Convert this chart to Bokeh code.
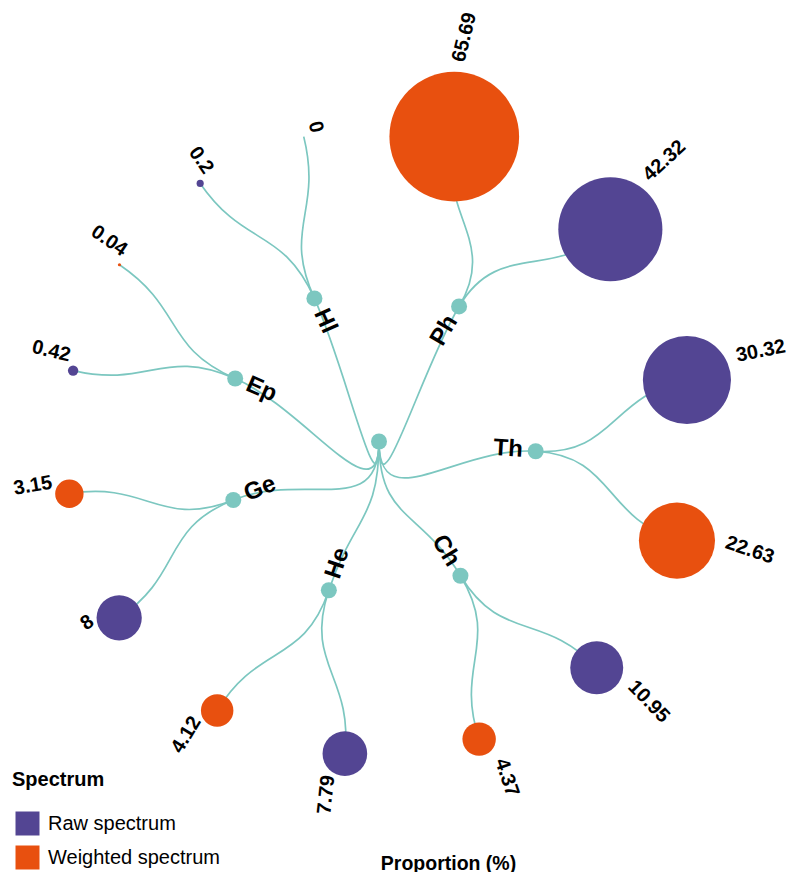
import numpy as np
from bokeh.plotting import figure
from bokeh.models import Range1d, Legend, LegendItem, Label, ColumnDataSource
from bokeh.core.properties import value
from bokeh.embed import file_html
from bokeh.resources import INLINE

# ---------------- data ----------------
groups = ["Ph", "Ph", "Th", "Th", "Ch", "Ch", "He", "He",
          "Ge", "Ge", "Ep", "Ep", "Hl", "Hl"]
proportions = [65.69, 42.32, 30.32, 22.63, 10.95, 4.37, 7.79, 4.12,
               8, 3.15, 0.42, 0.04, 0.2, 0]
spectra = ["Weighted spectrum", "Raw spectrum", "Raw spectrum", "Weighted spectrum",
           "Raw spectrum", "Weighted spectrum", "Raw spectrum", "Weighted spectrum",
           "Raw spectrum", "Weighted spectrum", "Raw spectrum", "Weighted spectrum",
           "Raw spectrum", "Weighted spectrum"]
spectrum_levels = ["Raw spectrum", "Weighted spectrum"]
spectrum_colors = ["#534593", "#E8500F"]

# ---------------- layout constants ----------------
W, H = 792, 872
CX, CY = 378.5, 441.0          # centre of the tree, from the figure's top-left
R_LEAF, R_NODE = 314.0, 157.0
SIZE_K = 8.0                   # radius = SIZE_K * sqrt(value)
PAD, SIZE_W = 10.25, 0.1128    # angular half-width per leaf (deg)
TEAL = "#7CC7C0"
FONT = "Liberation Sans"

n = len(proportions)
vals = np.array(proportions, dtype=float)
rad = SIZE_K * np.sqrt(vals)

# angular positions: spacing grows with the size of neighbouring circles
half = PAD + SIZE_W * rad
gaps = half + np.roll(half, -1)             # gap between leaf i and i+1
scale = 360.0 / gaps.sum()
theta = np.zeros(n)
theta[0] = gaps[-1] * scale / 2.0
for i in range(1, n):
    theta[i] = theta[i - 1] + gaps[i - 1] * scale


def polar(r, deg):
    a = np.radians(deg)
    return r * np.sin(a), r * np.cos(a)


group_names = list(dict.fromkeys(groups))
g_theta = np.array([theta[[k for k in range(n) if groups[k] == g]].mean() for g in group_names])
ROOT_ANGLE = 180.0

p = figure(width=W, height=H, output_backend="svg", toolbar_location=None,
           x_range=Range1d(-CX, W - CX), y_range=Range1d(CY - H, CY),
           min_border=0, outline_line_color=None)
p.axis.visible = False
p.grid.visible = False
p.background_fill_color = "white"

# ---------------- edges (diagonal bezier links) ----------------
ex0, ey0, ex1, ey1, cx0, cy0, cx1, cy1 = ([] for _ in range(8))
rm = R_NODE / 2
for gt in g_theta:
    x1, y1 = polar(R_NODE, gt)
    a0, b0 = polar(rm, ROOT_ANGLE)
    a1, b1 = polar(rm, gt)
    ex0.append(0.0); ey0.append(0.0); ex1.append(x1); ey1.append(y1)
    cx0.append(a0); cy0.append(b0); cx1.append(a1); cy1.append(b1)
rm2 = (R_NODE + R_LEAF) / 2
for i in range(n):
    gt = g_theta[group_names.index(groups[i])]
    x0, y0 = polar(R_NODE, gt)
    x1, y1 = polar(R_LEAF, theta[i])
    a0, b0 = polar(rm2, gt)
    a1, b1 = polar(rm2, theta[i])
    ex0.append(x0); ey0.append(y0); ex1.append(x1); ey1.append(y1)
    cx0.append(a0); cy0.append(b0); cx1.append(a1); cy1.append(b1)
p.bezier(x0=ex0, y0=ey0, x1=ex1, y1=ey1, cx0=cx0, cy0=cy0, cx1=cx1, cy1=cy1,
         line_color=TEAL, line_width=1.7)

# ---------------- inner nodes ----------------
gx, gy = polar(R_NODE, g_theta)
p.circle(x=np.concatenate([[0.0], gx]), y=np.concatenate([[0.0], gy]),
         radius=8, fill_color=TEAL, line_color=None)

# ---------------- leaves ----------------
lx, ly = polar(R_LEAF, theta)
leaf_colors = [spectrum_colors[spectrum_levels.index(s)] for s in spectra]
p.circle(x=lx, y=ly, radius=rad, fill_color=leaf_colors, line_color=None)

# ---------------- value labels ----------------
vx, vy, va, val_align = [], [], [], []
for i in range(n):
    t = theta[i] % 360
    right = t < 180
    alpha = (90 - t) if right else (270 - t)
    r_anchor = R_LEAF + rad[i] + (9 if right else 1)
    x, y = polar(r_anchor, t)
    ar = np.radians(alpha)
    x += -15 * np.sin(ar)
    y += 15 * np.cos(ar)
    vx.append(x); vy.append(y); va.append(ar)
    val_align.append("left" if right else "right")
val_src = ColumnDataSource(dict(x=vx, y=vy, angle=va, align=val_align,
                                text=[f"{v:g}" for v in proportions]))
p.text(x="x", y="y", text="text", angle="angle", text_align="align", source=val_src,
       text_baseline="middle", text_font=value(FONT), text_font_style="bold",
       text_font_size="20px", text_color="black")

# ---------------- group labels ----------------
gx2, gy2, ga, g_align = [], [], [], []
for gt in g_theta:
    t = gt % 360
    right = t < 180
    alpha = (90 - t) if right else (270 - t)
    x, y = polar(R_NODE - 13, t)
    ar = np.radians(alpha)
    x += -2 * np.sin(ar)
    y += 2 * np.cos(ar)
    gx2.append(x); gy2.append(y); ga.append(ar)
    g_align.append("right" if right else "left")
g_src = ColumnDataSource(dict(x=gx2, y=gy2, angle=ga, align=g_align, text=group_names))
p.text(x="x", y="y", text="text", angle="angle", text_align="align", source=g_src,
       text_baseline="middle", text_font=value(FONT), text_font_style="bold",
       text_font_size="24px", text_color="black")

# ---------------- legend (keys drawn from hidden per-spectrum rect renderers) ----------------
legend_items = []
for lvl, col in zip(spectrum_levels, spectrum_colors):
    idx = [k for k in range(n) if spectra[k] == lvl]
    rr = p.rect(x=lx[idx], y=ly[idx], width=1, height=1, fill_color=col, line_color=None)
    rr.visible = False
    legend_items.append(LegendItem(label=lvl, renderers=[rr]))
legend = Legend(items=legend_items, title="Spectrum", location=(12, 0),
                orientation="vertical", padding=0, margin=0, spacing=4,
                glyph_width=30, glyph_height=30, label_height=30, label_standoff=6,
                title_standoff=17, border_line_color=None, background_fill_alpha=0,
                title_text_font=FONT, title_text_font_style="bold",
                title_text_font_size="20px", label_text_font=FONT,
                label_text_font_size="20px", label_text_color="black",
                title_text_color="black", click_policy="none")
p.add_layout(legend, "center")

# ---------------- axis title ----------------
p.add_layout(Label(x=448, y=10, x_units="screen", y_units="screen",
                   text="Proportion (%)", text_align="center", text_baseline="middle",
                   text_font=FONT, text_font_style="bold", text_font_size="19.5px",
                   text_color="black"))

open("out.html", "w").write(file_html(p, INLINE))
